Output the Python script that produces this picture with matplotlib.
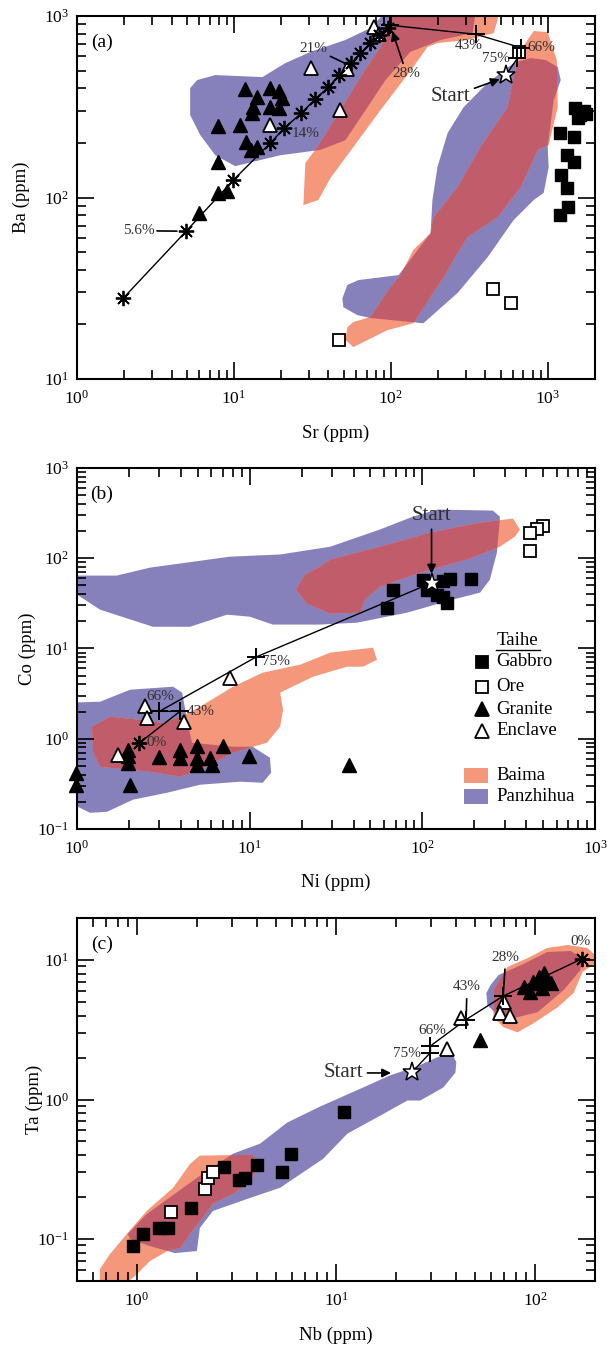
import matplotlib
matplotlib.use("Agg")
import matplotlib.pyplot as plt
from matplotlib.patches import Polygon, Rectangle
from matplotlib.lines import Line2D
from matplotlib.ticker import NullFormatter

plt.rcParams['font.family'] = ['Liberation Serif', 'DejaVu Serif']
plt.rcParams['mathtext.fontset'] = 'custom'
plt.rcParams['mathtext.rm'] = 'Liberation Serif'

PURPLE = '#8680BB'
SALMON = '#F5977A'
OVERLAP = '#C15D6B'
LABEL_GREY = '#303030'

# ---------------- (a) Sr vs Ba ----------------
gab_a_sr = [1700, 1600, 1500, 1750, 1190, 1460, 1320, 1460, 1220, 1320, 1190, 1350, 1560]
gab_a_ba = [300, 285, 310, 290, 226, 215, 171, 157, 133, 113, 80, 89, 275]
ore_a_sr = [46.5, 447, 580, 655]
ore_a_ba = [16.4, 31.2, 26.1, 635]
gran_a_sr = [11.8, 14.0, 16.9, 19.3, 20.2, 13.3, 16.9, 19.3, 13.0, 11.0, 7.97, 12.0, 14.0, 12.8, 7.97, 7.86, 9.02, 6.0]
gran_a_ba = [394, 359, 400, 387, 352, 316, 316, 312, 294, 251, 248, 203, 190, 183, 157, 106, 108, 82]
encl_a_sr = [31.1, 16.9, 47.2, 52.6, 78.6, 84]
encl_a_ba = [515, 251, 303, 508, 873, 800]

# melting model: asterisks, then crosses, then start composition
ast_a_sr = [1.97, 4.96, 9.9, 17.05, 20.9, 26.9, 33.0, 40, 47, 56, 64, 74, 84.6, 96.5]
ast_a_ba = [27.9, 65.3, 124.7, 199.5, 241, 292, 349, 406, 473, 551, 625, 710, 785, 859]
cross_a_sr = [99, 350, 679, 640]
cross_a_ba = [890, 793, 668, 585]
start_a = (541, 473)

pz_a = [
    [(5.26, 401), (5.83, 444), (7.60, 473), (15.2, 461), (21.3, 551), (30.7, 634), (51.3, 738),
     (74.1, 859), (92.4, 1050), (347, 1050), (332, 806), (207, 738), (133, 634), (92.4, 444),
     (68.9, 303), (51.3, 207), (35.5, 183), (19.7, 171), (10.2, 149), (7.6, 171), (6.1, 221),
     (5.26, 285)],
    [(49.1, 27.9), (52.8, 33.0), (62.1, 35.1), (112, 37.4), (179, 63.7), (184, 96.9), (198, 147),
     (230, 227), (291, 315), (414, 428), (606, 551), (778, 587), (970, 572), (1157, 524),
     (1209, 444), (1091, 345), (998, 190), (1013, 147), (941, 106), (813, 96.9), (606, 75.2),
     (414, 47.0), (266, 29.8), (161, 20.3), (74.1, 21.7), (61.2, 22.5), (49.8, 24.9)],
]
bm_a = [
    [(27.7, 90.9), (34.5, 96.9), (41.2, 128), (57.7, 190), (85.8, 303), (99.4, 358), (139, 524),
     (171, 675), (198, 710), (308, 738), (452, 806), (479, 951), (479, 1080), (102, 1080),
     (99.4, 951), (85.8, 675), (64, 461), (47.7, 303), (34.0, 190), (28.5, 155)],
    [(813, 827), (998, 816), (1140, 572), (1157, 315), (1013, 195), (862, 183), (672, 114),
     (479, 78.1), (308, 60.6), (266, 49.4), (217, 36.5), (139, 20.3), (95.1, 18.6), (57.7, 15.0),
     (51.3, 16.4), (52.8, 19.3), (57.7, 20.6), (74.1, 22.0), (99.4, 32.1), (115, 37.4),
     (139, 51.4), (179, 63.7), (187, 78.1), (266, 114), (373, 190), (555, 315), (606, 461),
     (672, 650)],
]

# ---------------- (b) Ni vs Co ----------------
gab_b_ni = [67.8, 62.1, 101, 106, 121, 132, 144.5, 138, 132, 190]
gab_b_co = [44.9, 28.1, 57.9, 44.9, 39.5, 55.5, 59, 31.9, 37.5, 59]
ore_b_ni = [501, 459, 420, 420]
ore_b_co = [226, 211, 191, 119]
gran_b_ni = [0.98, 0.98, 1.98, 1.98, 1.98, 2.03, 3.0, 3.95, 3.95, 4.93, 4.93, 4.93, 5.89, 6.03, 6.98, 9.95, 37.7]
gran_b_co = [0.417, 0.309, 0.755, 0.637, 0.538, 0.309, 0.628, 0.742, 0.61, 0.822, 0.61, 0.515, 0.61, 0.515, 0.836, 0.637, 0.515]
encl_b_ni = [2.48, 2.53, 4.16, 7.69, 1.73]
encl_b_co = [2.32, 1.70, 1.55, 4.71, 0.665]
path_b_ni = [113, 10.9, 3.0, 3.95, 2.29]
path_b_co = [53.2, 8.05, 2.01, 2.01, 0.896]

pz_b = [
    [(0.91, 64.2), (1.70, 64.2), (2.65, 78.7), (7.69, 104), (15.0, 110), (29.2, 134), (56.8, 208),
     (88.2, 289), (122, 346), (256, 337), (281, 289), (281, 268), (270, 115), (246, 57.9),
     (216, 41.6), (150, 34.8), (81.4, 24.9), (41.8, 19.3), (25.5, 18.4), (13.6, 18.4), (10.0, 22.5),
     (7.39, 23.7), (4.51, 17.4), (2.75, 17.4), (1.36, 26.9), (1.0, 39.5), (0.91, 42.6)],
    [(0.91, 2.51), (1.36, 2.57), (2.03, 3.49), (3.60, 3.77), (4.06, 3.24), (4.34, 1.62), (4.63, 0.903),
     (8.01, 0.815), (10.4, 0.815), (13.1, 0.616), (13.3, 0.42), (11.9, 0.325), (8.79, 0.334),
     (5.15, 0.309), (3.32, 0.252), (2.11, 0.211), (1.49, 0.155), (1.19, 0.151), (1.01, 0.176),
     (0.91, 0.185)],
]
bm_b = [
    [(18.5, 44.9), (20.9, 65.8), (25.5, 80.7), (29.2, 96.5), (56.8, 134), (111, 192), (216, 248),
     (335, 275), (367, 208), (344, 174), (281, 134), (181, 96.5), (96.9, 69.2), (56.8, 48.4),
     (46.5, 34.8), (43.5, 24.9), (29.2, 24.3), (21.5, 31.4)],
    [(1.22, 1.36), (1.55, 1.75), (2.32, 1.62), (3.15, 1.50), (4.11, 1.80), (5.15, 2.26), (8.01, 3.77),
     (11.9, 5.39), (19.6, 6.61), (29.2, 8.98), (51.8, 10.2), (54.6, 7.51), (45.3, 6.28), (36.6, 6.28),
     (23.3, 4.87), (15.0, 3.24), (15.6, 2.10), (15.0, 1.36), (12.6, 0.903), (10.0, 0.795),
     (8.01, 0.70), (5.15, 0.453), (3.95, 0.379), (2.65, 0.431), (1.36, 0.489), (1.24, 0.70)],
]

# ---------------- (c) Nb vs Ta ----------------
gab_c_nb = [0.951, 1.07, 1.29, 1.44, 1.86, 2.74, 3.25, 3.49, 4.0, 5.35, 5.93, 11.0]
gab_c_ta = [0.089, 0.109, 0.119, 0.119, 0.168, 0.326, 0.267, 0.276, 0.339, 0.300, 0.407, 0.82]
ore_c_nb = [1.49, 2.2, 2.27, 2.42]
ore_c_ta = [0.157, 0.228, 0.276, 0.300]
gran_c_nb = [53.1, 87.8, 94.8, 104, 111, 115, 119.5, 102, 98, 108]
gran_c_ta = [2.66, 6.43, 5.92, 7.58, 8.02, 7.18, 6.8, 6.8, 6.9, 6.3]
encl_c_nb = [42.2, 36.1, 69.6, 67, 74.6]
encl_c_ta = [3.81, 2.32, 5.01, 4.14, 3.96]
path_c_nb = [24.1, 29.8, 29.8, 45.0, 69.1]
path_c_ta = [1.57, 2.17, 2.42, 3.74, 5.51]
ast_c = (172, 10.2)

pz_c = [
    [(0.901, 0.109), (1.12, 0.151), (2.07, 0.284), (3.04, 0.409), (4.16, 0.483), (5.68, 0.683),
     (8.33, 0.891), (13.7, 1.22), (18.7, 1.49), (25.6, 1.73), (32.3, 2.01), (38.4, 2.11),
     (40.2, 1.85), (39.8, 1.56), (34.6, 1.22), (26.5, 0.983), (22.8, 0.983), (16.7, 0.767),
     (11.4, 0.569), (8.62, 0.376), (5.24, 0.233), (3.70, 0.197), (2.41, 0.159), (2.07, 0.12),
     (2.0, 0.082), (1.55, 0.0793), (1.16, 0.089), (0.922, 0.1)],
    [(56.9, 5.79), (59.7, 6.61), (65.5, 7.80), (87.4, 9.36), (115, 11.4), (151, 11.6), (173, 10.3),
     (169, 8.48), (139, 6.08), (103, 4.23), (77.9, 3.83), (64.7, 4.02), (57.6, 4.75)],
]
bm_c = [
    [(0.651, 0.046), (0.651, 0.0608), (0.732, 0.078), (0.891, 0.109), (1.12, 0.159), (1.52, 0.233),
     (1.85, 0.346), (2.07, 0.396), (3.83, 0.402), (4.02, 0.324), (3.70, 0.253), (3.04, 0.211),
     (2.41, 0.179), (1.85, 0.109), (1.65, 0.0862), (1.42, 0.082), (1.16, 0.0694), (1.0, 0.056),
     (0.85, 0.046)],
    [(61.8, 6.08), (72.6, 8.91), (91.6, 10.3), (115, 12.2), (146, 12.8), (183, 12.2), (213, 10.0),
     (173, 8.20), (156, 5.79), (130, 4.59), (98.2, 3.52), (81.5, 3.03), (69.3, 3.30), (61.8, 3.89),
     (61.8, 4.91)],
]


def draw_fields(ax, purple_fields, salmon_fields):
    """Panzhihua and Baima fields; their overlap gets its own colour."""
    pz_patches = []
    for pts in purple_fields:
        p = Polygon(pts, closed=True, fc=PURPLE, ec='none', zorder=1)
        ax.add_patch(p)
        pz_patches.append(p)
    for pts in salmon_fields:
        ax.add_patch(Polygon(pts, closed=True, fc=SALMON, ec='none', zorder=1.1))
    for pts in salmon_fields:
        for p in pz_patches:
            ov = Polygon(pts, closed=True, fc=OVERLAP, ec='none', zorder=1.2)
            ax.add_patch(ov)
            ov.set_clip_path(p)


def style_axis(ax, xlim, ylim, xlabel, ylabel, ylab_x, tag):
    ax.set_xscale('log')
    ax.set_yscale('log')
    ax.set_xlim(*xlim)
    ax.set_ylim(*ylim)
    for s in ax.spines.values():
        s.set_linewidth(1.5)
    ax.tick_params(which='both', direction='in', top=True, right=True, width=1.2,
                   labelsize=12.5)
    ax.tick_params(axis='x', pad=8)
    ax.tick_params(axis='y', pad=6)
    ax.tick_params(which='major', length=12.5)
    ax.tick_params(which='minor', length=6.5)
    ax.xaxis.set_minor_formatter(NullFormatter())
    ax.yaxis.set_minor_formatter(NullFormatter())
    ax.set_xlabel(xlabel, fontsize=13.5)
    ax.set_ylabel(ylabel, fontsize=13.5)
    ax.xaxis.set_label_coords(0.5, -0.125)
    ax.yaxis.set_label_coords(ylab_x, 0.5)
    ax.text(0.048, 0.928, tag, transform=ax.transAxes, fontsize=14, ha='center', va='center')


def scatter_groups(ax, gab, ore, gran, encl, ms_sq=9, ms_tri=10.5):
    ax.plot(*gab, 's', ms=ms_sq, mfc='k', mec='k', zorder=3, clip_on=False)
    ax.plot(*ore, 's', ms=ms_sq, mfc='white', mec='k', mew=1.3, zorder=3, clip_on=False)
    ax.plot(*gran, '^', ms=ms_tri, mfc='k', mec='k', zorder=3, clip_on=False)
    ax.plot(*encl, '^', ms=ms_tri, mfc='white', mec='k', mew=1.3, zorder=3, clip_on=False)


ASTER = (8, 2, 0)
arrow_kw = dict(arrowstyle='-|>', color='k', lw=1.2, mutation_scale=13, shrinkA=1, shrinkB=2)
lead_kw = dict(arrowstyle='-', color='k', lw=1.2, shrinkA=0, shrinkB=3)

fig = plt.figure(figsize=(6.07, 13.49), dpi=100)
ax_a = fig.add_axes([0.1269, 0.7190, 0.8534, 0.2691])
ax_b = fig.add_axes([0.1269, 0.3855, 0.8534, 0.2676])
ax_c = fig.add_axes([0.1269, 0.0504, 0.8534, 0.2691])

# ---- panel (a)
draw_fields(ax_a, pz_a, bm_a)
scatter_groups(ax_a, (gab_a_sr, gab_a_ba), (ore_a_sr, ore_a_ba),
               (gran_a_sr, gran_a_ba), (encl_a_sr, encl_a_ba))
ax_a.plot(ast_a_sr + cross_a_sr + [start_a[0]], ast_a_ba + cross_a_ba + [start_a[1]],
          '-', color='k', lw=1.0, zorder=2)
ax_a.plot(ast_a_sr, ast_a_ba, ls='none', marker=ASTER, ms=11, mec='k', mew=1.3, zorder=4)
ax_a.plot(cross_a_sr, cross_a_ba, ls='none', marker='+', ms=13, mec='k', mew=1.4, zorder=4)
ax_a.plot(*start_a, marker='*', ms=14, mfc='white', mec='k', mew=1.1, zorder=5)
ax_a.annotate('5.6%', xy=(4.6, 65.3), xytext=(2.46, 65.6), fontsize=11, color=LABEL_GREY,
              ha='center', va='center', arrowprops=lead_kw)
ax_a.annotate('21%', xy=(53.9, 537), xytext=(32.2, 663), fontsize=11, color=LABEL_GREY,
              ha='center', va='center', arrowprops=lead_kw)
ax_a.text(28.5, 226, '14%', fontsize=11, color=LABEL_GREY, ha='center', va='center')
ax_a.annotate('28%', xy=(101, 850), xytext=(126, 480), fontsize=11, color=LABEL_GREY,
              ha='center', va='center', arrowprops=arrow_kw)
ax_a.text(314, 692, '43%', fontsize=11, color=LABEL_GREY, ha='center', va='center')
ax_a.text(740, 668, '66%', fontsize=11, color=LABEL_GREY, ha='left', va='center')
ax_a.text(465, 585, '75%', fontsize=11, color=LABEL_GREY, ha='center', va='center')
ax_a.annotate('Start', xy=(513, 454), xytext=(240, 359), fontsize=15, color=LABEL_GREY,
              ha='center', va='center', arrowprops=arrow_kw)
style_axis(ax_a, (1, 2000), (10, 1000), 'Sr (ppm)', 'Ba (ppm)', -0.090, '(a)')

# ---- panel (b)
draw_fields(ax_b, pz_b, bm_b)
scatter_groups(ax_b, (gab_b_ni, gab_b_co), (ore_b_ni, ore_b_co),
               (gran_b_ni, gran_b_co), (encl_b_ni, encl_b_co))
ax_b.plot(path_b_ni, path_b_co, '-', color='k', lw=1.0, zorder=2)
ax_b.plot(path_b_ni[1:4], path_b_co[1:4], ls='none', marker='+', ms=13, mec='k', mew=1.4, zorder=4)
ax_b.plot(path_b_ni[4], path_b_co[4], ls='none', marker=ASTER, ms=11, mec='k', mew=1.3, zorder=4)
ax_b.plot(path_b_ni[0], path_b_co[0], marker='*', ms=14, mfc='white', mec='k', mew=1.1, zorder=5)
ax_b.text(11.8, 7.14, '75%', fontsize=11, color=LABEL_GREY, ha='left', va='center')
ax_b.text(2.53, 2.92, '66%', fontsize=11, color=LABEL_GREY, ha='left', va='center')
ax_b.text(4.34, 1.99, '43%', fontsize=11, color=LABEL_GREY, ha='left', va='center')
ax_b.text(2.53, 0.903, '0%', fontsize=11, color=LABEL_GREY, ha='left', va='center')
ax_b.annotate('Start', xy=(113, 63), xytext=(113, 297), fontsize=15, color=LABEL_GREY,
              ha='center', va='center', arrowprops=arrow_kw)
style_axis(ax_b, (1, 1000), (0.1, 1000), 'Ni (ppm)', 'Co (ppm)', -0.080, '(b)')

# legend for the Taihe samples and the two intrusion fields
leg_x, txt_x = 0.781, 0.809
ax_b.text(0.850, 0.522, 'Taihe', transform=ax_b.transAxes, fontsize=13.5, ha='center', va='center')
ax_b.add_line(Line2D([0.809, 0.894], [0.496, 0.496], transform=ax_b.transAxes, color='k', lw=1.0))
legend_rows = [
    ('Gabbro', 's', 'k', 0.4634),
    ('Ore', 's', 'white', 0.394),
    ('Granite', '^', 'k', 0.3316),
    ('Enclave', '^', 'white', 0.2715),
]
for name, mk, fc, y in legend_rows:
    ax_b.plot(leg_x, y, marker=mk, ms=9 if mk == 's' else 10.5, mfc=fc, mec='k', mew=1.3,
              transform=ax_b.transAxes, zorder=5)
    ax_b.text(txt_x, y, name, transform=ax_b.transAxes, fontsize=13.5, ha='left', va='center')
for name, col, y0 in [('Baima', SALMON, 0.128), ('Panzhihua', PURPLE, 0.069)]:
    ax_b.add_patch(Rectangle((0.7477, y0), 0.0452, 0.042, transform=ax_b.transAxes,
                             fc=col, ec='none', zorder=5))
    ax_b.text(txt_x, y0 + 0.021, name, transform=ax_b.transAxes, fontsize=13.5,
              ha='left', va='center')

# ---- panel (c)
draw_fields(ax_c, pz_c, bm_c)
scatter_groups(ax_c, (gab_c_nb, gab_c_ta), (ore_c_nb, ore_c_ta),
               (gran_c_nb, gran_c_ta), (encl_c_nb, encl_c_ta))
ax_c.plot(path_c_nb + [ast_c[0]], path_c_ta + [ast_c[1]], '-', color='k', lw=1.0, zorder=2)
ax_c.plot(path_c_nb[1:], path_c_ta[1:], ls='none', marker='+', ms=13, mec='k', mew=1.4, zorder=4)
ax_c.plot(*ast_c, ls='none', marker=ASTER, ms=11, mec='k', mew=1.3, zorder=4)
ax_c.plot(path_c_nb[0], path_c_ta[0], marker='*', ms=14, mfc='white', mec='k', mew=1.1, zorder=5)
ax_c.text(169, 13.5, '0%', fontsize=11, color=LABEL_GREY, ha='center', va='center')
ax_c.annotate('28%', xy=(69.1, 5.51), xytext=(71.2, 10.5), fontsize=11, color=LABEL_GREY,
              ha='center', va='center', arrowprops=dict(lead_kw, shrinkA=2, shrinkB=0))
ax_c.annotate('43%', xy=(45.0, 3.74), xytext=(45.5, 6.43), fontsize=11, color=LABEL_GREY,
              ha='center', va='center', arrowprops=dict(lead_kw, shrinkA=2, shrinkB=0))
ax_c.text(30.4, 3.14, '66%', fontsize=11, color=LABEL_GREY, ha='center', va='center')
ax_c.text(22.7, 2.13, '75%', fontsize=11, color=LABEL_GREY, ha='center', va='center')
ax_c.annotate('Start', xy=(19.5, 1.55), xytext=(10.9, 1.55), fontsize=15, color=LABEL_GREY,
              ha='center', va='center', arrowprops=arrow_kw)
style_axis(ax_c, (0.5, 200), (0.05, 20), 'Nb (ppm)', 'Ta (ppm)', -0.065, '(c)')

fig.savefig('out.png', dpi=100)
